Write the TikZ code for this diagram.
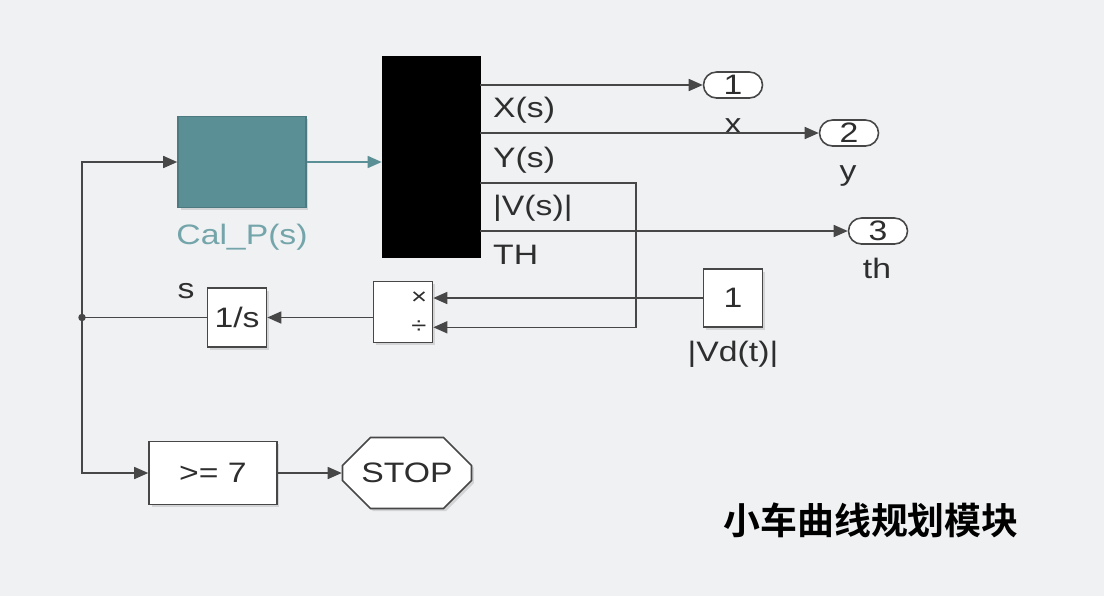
\documentclass[tikz,border=0pt]{standalone}
\usepackage{fontspec}
\setmainfont{Liberation Sans}[FakeStretch=1.2]
\newfontfamily\cjk{Noto Sans CJK SC Bold}
\usetikzlibrary{positioning, shapes.misc, arrows.meta, calc, shadows}
\definecolor{ink}{HTML}{2e2e2e}
\definecolor{wire}{HTML}{474747}
\definecolor{tealblk}{HTML}{5b8f96}
\definecolor{tealtxt}{HTML}{74a5aa}
\definecolor{paper}{HTML}{eff1f3}

\begin{document}
\begin{tikzpicture}[x=0.02cm, y=-0.02cm, font=\fontsize{16}{18}\selectfont, text=ink,
  blk/.style={draw=wire, line width=0.9pt, fill=white, inner sep=0pt,
              drop shadow={shadow xshift=0.05cm, shadow yshift=-0.05cm, opacity=0.25}},
  port/.style={draw=wire, line width=0.9pt, fill=white, rounded rectangle, minimum width=1.18cm,
               minimum height=0.52cm, inner sep=0pt},
  ln/.style={line width=0.9pt, wire},
  arr/.style={-{Triangle[length=2.8mm, width=2.4mm]}, ln}
]
  \fill[paper] (0,0) rectangle (1104,596);
  \useasboundingbox (0,0) rectangle (1104,596);

  \node[blk, fill=tealblk, draw=tealblk!85!black, minimum width=2.56cm, minimum height=1.82cm] (calp) at (242,162) {};
  \node[text=tealtxt] (calplbl) at (242,237) {Cal\_P(s)};
  \node[fill=black, draw=black, minimum width=1.96cm, minimum height=4.02cm, inner sep=0pt] (traj) at (431,157) {};
  \node[anchor=west] (lx) at (487,110) {X(s)};
  \node[anchor=west] (ly) at (487,160) {Y(s)};
  \node[anchor=west] (lv) at (487,208) {|V(s)|};
  \node[anchor=west] (lth) at (487,255) {TH};

  \node[port] (o1) at (733,85) {1};
  \node[port] (o2) at (849,133) {2};
  \node[port] (o3) at (878,231) {3};
  \node (lblx) at (733,126) {x};
  \node (lbly) at (848,176) {y};
  \node (lblth) at (877,268) {th};

  \node[blk, minimum width=1.18cm, minimum height=1.16cm] (vd) at (733,298) {1};
  \node (vdlbl) at (733,354) {|Vd(t)|};
  \node[blk, minimum width=1.18cm, minimum height=1.22cm] (prod) at (403,312) {};
  \node[font=\fontsize{13}{14}\selectfont] (mul) at (419,298) {×};
  \node[font=\fontsize{13}{14}\selectfont] (dvd) at (419,327) {÷};
  \node[blk, minimum width=1.18cm, minimum height=1.18cm] (integ) at (237,317.5) {1/s};
  \node (slbl) at (186,291) {s};

  \node[blk, minimum width=2.56cm, minimum height=1.26cm] (cmp) at (213,473) {>= 7};
  \node[blk, chamfered rectangle, chamfered rectangle xsep=0.3cm, chamfered rectangle ysep=0.36cm,
        minimum width=2.58cm, minimum height=1.42cm] (stop) at (407,473) {STOP};

  \node[font=\cjk\fontsize{21}{24}\selectfont, text=black] (title) at (871,520) {小车曲线规划模块};

  \coordinate (vout) at ($(traj.east)+(0,26)$);
  \coordinate (fb) at (636,183);
  \coordinate (prodin2) at ($(prod.south east)+(0,-16)$);
  \coordinate (br) at (82,317.5);

  \draw[arr] (traj.east |- o1.west) -- (o1.west);
  \draw[arr] (traj.east |- o2.west) -- (o2.west);
  \draw[arr] (traj.east |- o3.west) -- (o3.west);
  \draw[arr] (vout) -- (fb) |- (prodin2);
  \draw[arr] (vd.west) -- (vd.west -| prod.east);
  \draw[arr] (prod.west |- integ.east) -- (integ.east);
  \draw[ln] (integ.west) -- (br);
  \fill[wire] (br) circle (0.075cm);
  \draw[arr] (br) |- (calp.west);
  \draw[arr] (br) |- (cmp.west);
  \draw[arr, tealblk] (calp.east) -- (calp.east -| traj.west);
  \draw[arr] (cmp.east) -- (stop.west);
\end{tikzpicture}
\end{document}
